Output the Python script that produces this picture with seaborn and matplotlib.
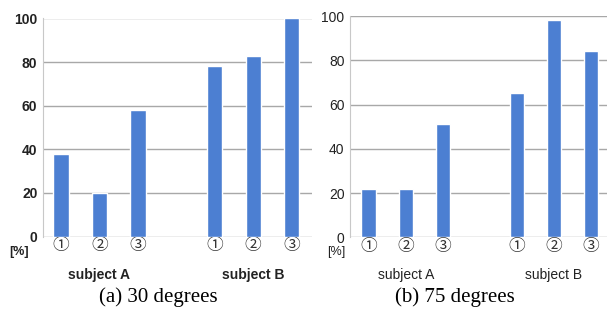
import matplotlib

matplotlib.use('Agg')
import matplotlib.pyplot as plt
import matplotlib.transforms as mtransforms
import seaborn as sns
import pandas as pd

# data
subjects = ['subject A', 'subject B']
conditions = ['①', '②', '③']
captions = ['(a) 30 degrees', '(b) 75 degrees']
vals_30 = [38, 20, 58, 78, 83, 100]
vals_75 = [22, 22, 51, 65, 98, 84]
yticks = [0, 20, 40, 60, 80, 100]

BAR = '#4c7fd2'
GRID = '#a8a8a8'
SANS = ['Liberation Sans', 'Noto Sans CJK JP']

sns.set_style('white')
plt.rcParams['font.family'] = SANS

fig = plt.figure(figsize=(6.07, 3.2), dpi=100)
W, H = 607, 320


def px_box(x0, x1, ytop, ybot):
    return [x0 / W, 1 - ybot / H, (x1 - x0) / W, (ybot - ytop) / H]


panels = [
    dict(vals=vals_30, box=px_box(43, 312, 18.5, 236.5), xlim=(-0.47, 6.53),
         bold=True, pct_x=19, cap_x=158),
    dict(vals=vals_75, box=px_box(350, 607, 16, 237.3), xlim=(-0.51, 6.43),
         bold=False, pct_x=336, cap_x=455),
]

for p, cap in zip(panels, captions):
    ax = fig.add_axes(p['box'])
    pos = [si * 4 + ci for si in range(len(subjects)) for ci in range(len(conditions))]
    df = pd.DataFrame({'pos': pos, 'val': p['vals']})
    sns.barplot(data=df, x='pos', y='val', native_scale=True, color=BAR,
                saturation=1, width=0.4, ax=ax, zorder=3)
    ax.set_xlim(*p['xlim'])
    ax.set_ylim(0, 100)
    ax.set_yticks(yticks)
    wt = 'bold' if p['bold'] else 'normal'
    ax.set_yticklabels([str(t) for t in yticks], fontsize=10, fontweight=wt,
                       color='#222222')
    ax.set_xticks(pos)
    ax.set_xticklabels(conditions * len(subjects), fontsize=12, color='#333333')
    ax.tick_params(axis='both', length=0)
    ax.tick_params(axis='x', pad=1)
    ax.tick_params(axis='y', pad=4)
    ax.set_xlabel('')
    ax.set_ylabel('')
    ax.yaxis.grid(True, color=GRID, lw=1)
    ax.set_axisbelow(True)
    for s in ['top', 'right', 'bottom']:
        ax.spines[s].set_visible(False)
    ax.spines['left'].set_color('#c8c8c8')
    ax.spines['left'].set_linewidth(0.8)

    tr = mtransforms.blended_transform_factory(ax.transData, fig.transFigure)
    for si, name in enumerate(subjects):
        ax.text(si * 4 + 1, 1 - 275 / H, name, transform=tr, ha='center',
                va='center', fontsize=10, fontweight=wt, color='#222222')
    fig.text(p['pct_x'] / W, 1 - 252 / H, '[%]', ha='center', va='center',
             fontsize=9, fontweight=wt, color='#222222')
    fig.text(p['cap_x'] / W, 1 - 297 / H, cap, ha='center', va='center',
             fontsize=15, family='Liberation Serif', color='black')

fig.savefig('out.png', dpi=100)
plt.close(fig)
